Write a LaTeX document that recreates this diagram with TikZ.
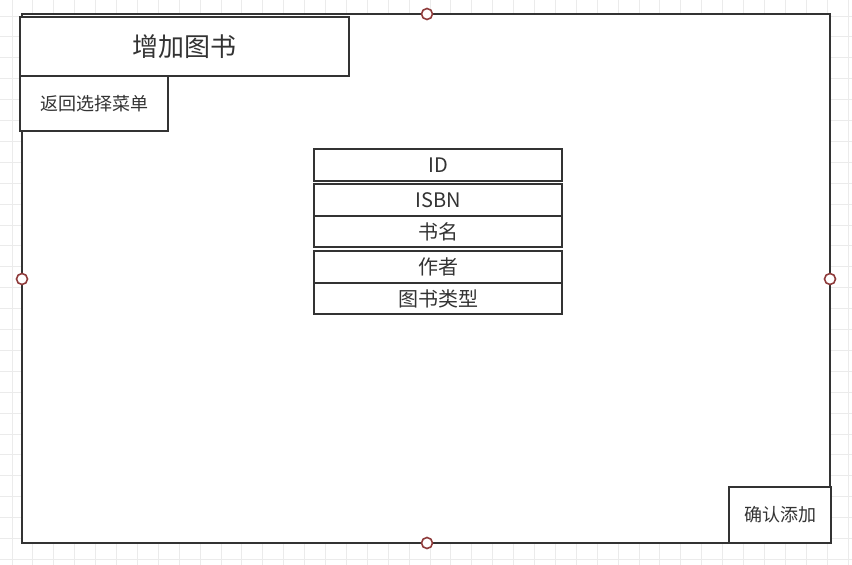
\documentclass[tikz,border=0pt]{standalone}
\usepackage{fontspec}
\setmainfont{Noto Sans CJK SC}
\definecolor{ink}{HTML}{333333}
\definecolor{gridc}{HTML}{EBEBEB}
\definecolor{ptc}{HTML}{8E3A3A}
\begin{document}
\begin{tikzpicture}[x=1pt,y=-1pt,
  box/.style={draw=ink,line width=2.6pt,fill=white,text=ink,inner sep=0pt},
  pt/.style={circle,draw=ptc,line width=1.6pt,fill=white,minimum size=11pt,inner sep=0pt},
  fld/.style={font=\fontsize{20}{22}\selectfont}]
\useasboundingbox (0,0) rectangle (852,565);
\fill[white] (0,0) rectangle (852,565);
\foreach \i in {0,...,40} { \draw[gridc,line width=1pt] ({12+20.9*\i},0) -- ({12+20.9*\i},565); }
\foreach \j in {-1,...,27} { \draw[gridc,line width=1pt] (0,{16+20.9*\j}) -- (852,{16+20.9*\j}); }
\draw[ink,line width=2.6pt,fill=white] (22,14) rectangle (830,543);
\node[pt] (pn) at (427,14) {};
\node[pt] (pw) at (22,279) {};
\node[pt] (pe) at (830,279) {};
\node[pt] (ps) at (427,543) {};
\node[box,minimum width=329pt,minimum height=59pt,font=\fontsize{26}{28}\selectfont] (title) at (184.5,46.5) {增加图书};
\node[box,minimum width=148pt,minimum height=55pt,font=\fontsize{18}{20}\selectfont] (back) at (94,103.5) {返回选择菜单};
\node[box,fld,minimum width=248pt,minimum height=32pt] (id) at (438,165) {ID};
\node[box,fld,minimum width=248pt,minimum height=32pt] (isbn) at (438,200) {ISBN};
\node[box,fld,minimum width=248pt,minimum height=31pt] (name) at (438,231.5) {书名};
\node[box,fld,minimum width=248pt,minimum height=32pt] (author) at (438,267) {作者};
\node[box,fld,minimum width=248pt,minimum height=31pt] (type) at (438,298.5) {图书类型};
\node[box,minimum width=102pt,minimum height=56pt,font=\fontsize{18}{20}\selectfont] (ok) at (780,515) {确认添加};
\end{tikzpicture}
\end{document}
